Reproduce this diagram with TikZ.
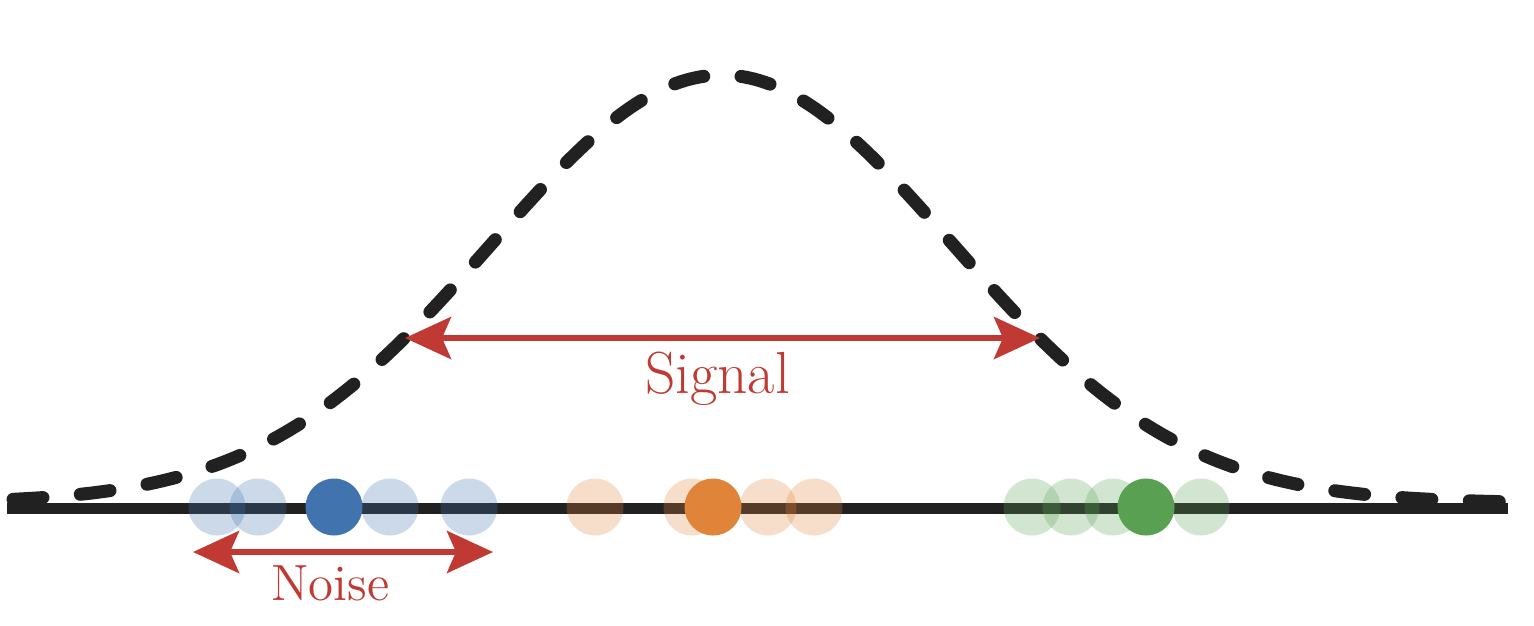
\documentclass[tikz,border=0pt]{standalone}
\usepackage{fontspec}
\usetikzlibrary{arrows.meta}
\definecolor{inkblack}{RGB}{34,33,34}
\definecolor{sigred}{RGB}{192,57,50}
\definecolor{dotblue}{RGB}{65,116,175}
\definecolor{dotorange}{RGB}{224,132,58}
\definecolor{dotgreen}{RGB}{90,160,83}
\begin{document}
\begin{tikzpicture}[x=1cm,y=1cm,
	axis/.style={draw=inkblack, line width=0.11cm},
	bell/.style={draw=inkblack, line width=0.13cm, line cap=round,
		dash pattern=on 0.30cm off 0.3746cm},
	span/.style={draw=sigred, line width=0.06cm,
		{Stealth[length=0.46cm, width=0.42cm, inset=0.09cm]}-{Stealth[length=0.46cm, width=0.42cm, inset=0.09cm]}},
	faint/.style={circle, inner sep=0pt, minimum size=0.57cm, fill opacity=0.27},
	dot/.style={circle, inner sep=0pt, minimum size=0.57cm}]
	\useasboundingbox (0,0) rectangle (15.34,6.25);
	% axis
	\coordinate (axL) at (0.07,1.17);
	\coordinate (axR) at (15.08,1.17);
	\draw[axis] (axL) -- (axR);
	% bell curve
	\draw[bell] plot[domain=0.13:15.02, samples=300] (\x, {1.22+4.28*exp(-((\x-7.22)^2)/(2*2.3^2))});
	% samples
	\foreach \px [count=\i] in {2.17,2.58,3.90,4.69}
		\node[faint, fill=dotblue] (blue\i) at (\px,1.18) {};
	\foreach \px [count=\i] in {5.95,6.92,7.68,8.14}
		\node[faint, fill=dotorange] (orange\i) at (\px,1.18) {};
	\foreach \px [count=\i] in {10.32,10.71,11.13,12.01}
		\node[faint, fill=dotgreen] (green\i) at (\px,1.18) {};
	\node[dot, fill=dotblue] (blueM) at (3.34,1.18) {};
	\node[dot, fill=dotorange] (orangeM) at (7.13,1.18) {};
	\node[dot, fill=dotgreen] (greenM) at (11.46,1.18) {};
	% spans
	\coordinate (sigL) at (4.05,2.87);
	\coordinate (sigR) at (10.40,2.87);
	\draw[span] (sigL) -- (sigR);
	\node[sigred, anchor=base, inner sep=0pt, font=\fontsize{16.9}{20}\selectfont] (signal) at (7.175,2.32) {Signal};
	\coordinate (noiL) at (1.93,0.73);
	\coordinate (noiR) at (4.93,0.73);
	\draw[span] (noiL) -- (noiR);
	\node[sigred, anchor=base, inner sep=0pt, font=\fontsize{14.5}{17}\selectfont] (noise) at (3.305,0.25) {Noise};
\end{tikzpicture}
\end{document}
